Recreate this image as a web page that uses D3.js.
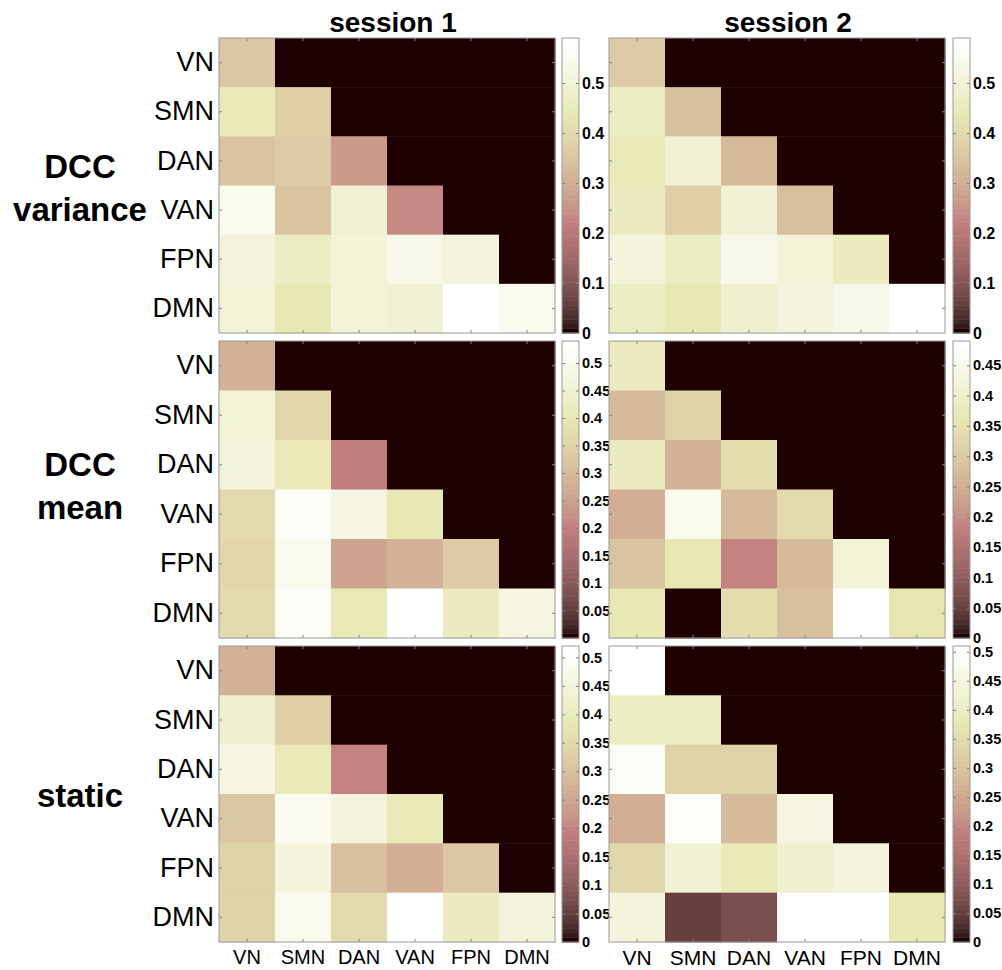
<!DOCTYPE html>
<html>
<head>
<meta charset="utf-8">
<script src="https://cdn.jsdelivr.net/npm/d3@7"></script>
<style>
  body { margin: 0; background: #fff; }
  svg { display: block; font-family: "Liberation Sans", Arial, sans-serif; }
  .frame { fill: none; stroke: #9a9a9a; stroke-width: 1; }
  .ax path { display: none; }
  .ax line { stroke: #808080; }
  .ax text { fill: #000; }
</style>
</head>
<body>
<div id="chart"></div>
<script>
// networks (rows / columns of each matrix)
var networks = ["VN", "SMN", "DAN", "VAN", "FPN", "DMN"];
var sessions = ["session 1", "session 2"];
var measures = [["DCC", "variance"], ["DCC", "mean"], ["static"]];

// lower triangles, row i holds columns 0..i (upper triangle is 0)
var dccVarS1 = [
  [0.354],
  [0.45, 0.37],
  [0.35, 0.36, 0.265],
  [0.545, 0.35, 0.49, 0.236],
  [0.51, 0.465, 0.50, 0.54, 0.51],
  [0.50, 0.44, 0.50, 0.49, 0.59, 0.55]
];
var dccVarS2 = [
  [0.365],
  [0.47, 0.34],
  [0.45, 0.49, 0.325],
  [0.455, 0.37, 0.49, 0.34],
  [0.51, 0.47, 0.54, 0.50, 0.46],
  [0.47, 0.44, 0.48, 0.51, 0.54, 0.59]
];
var dccMeanS1 = [
  [0.285],
  [0.46, 0.355],
  [0.465, 0.41, 0.20],
  [0.37, 0.52, 0.475, 0.40],
  [0.355, 0.50, 0.255, 0.28, 0.335],
  [0.37, 0.52, 0.41, 0.54, 0.42, 0.475]
];
var dccMeanS2 = [
  [0.38],
  [0.27, 0.32],
  [0.38, 0.26, 0.34],
  [0.245, 0.455, 0.27, 0.33],
  [0.29, 0.365, 0.185, 0.27, 0.415],
  [0.36, 0.0, 0.34, 0.28, 0.49, 0.355]
];
var staticS1 = [
  [0.275],
  [0.425, 0.33],
  [0.46, 0.39, 0.20],
  [0.31, 0.49, 0.45, 0.395],
  [0.34, 0.45, 0.30, 0.26, 0.31],
  [0.34, 0.485, 0.355, 0.52, 0.405, 0.45]
];
var staticS2 = [
  [0.51],
  [0.40, 0.40],
  [0.49, 0.33, 0.33],
  [0.255, 0.495, 0.285, 0.45],
  [0.335, 0.43, 0.39, 0.42, 0.44],
  [0.445, 0.05, 0.075, 0.51, 0.51, 0.375]
];
var matrices = [[dccVarS1, dccVarS2], [dccMeanS1, dccMeanS2], [staticS1, staticS2]];

// colour limits (top of each colorbar)
var colorMax = [[0.59, 0.59], [0.54, 0.49], [0.52, 0.51]];

// colorbar tick labels
var ticksCoarse = [0, 0.1, 0.2, 0.3, 0.4, 0.5];
var ticksFine = [0, 0.05, 0.1, 0.15, 0.2, 0.25, 0.3, 0.35, 0.4, 0.45, 0.5];
var ticksFine45 = [0, 0.05, 0.1, 0.15, 0.2, 0.25, 0.3, 0.35, 0.4, 0.45];
var colorTicks = [[ticksCoarse, ticksCoarse], [ticksFine, ticksFine45], [ticksFine, ticksFine]];

// layout
var width = 1002, height = 970;
var cols = [{x: 219, w: 336, cb: 562, title: 393}, {x: 609, w: 336, cb: 953, title: 788}];
var rows = [{y: 38, h: 295, lines: [178, 221]}, {y: 341, h: 297, lines: [476, 519]}, {y: 646, h: 296, lines: [807]}];
var cbWidth = 17;

// MATLAB "pink" colormap, 64 levels
function pinkMap(m) {
  var n = Math.floor(3 / 8 * m), out = [];
  for (var i = 0; i < m; i++) {
    var g = i / (m - 1);
    var r = i < n ? (i + 1) / n : 1;
    var gg = i < n ? 0 : (i < 2 * n ? (i - n + 1) / n : 1);
    var b = i < 2 * n ? 0 : (i - 2 * n + 1) / (m - 2 * n);
    out.push(d3.rgb(255 * Math.sqrt((2 * g + r) / 3),
                    255 * Math.sqrt((2 * g + gg) / 3),
                    255 * Math.sqrt((2 * g + b) / 3)).formatHex());
  }
  return out;
}
var pink = pinkMap(64);

var svg = d3.select("#chart").append("svg")
  .attr("width", width)
  .attr("height", height);

// column titles
svg.selectAll(".coltitle")
  .data(sessions).enter()
  .append("text")
  .attr("class", "coltitle")
  .attr("x", function(d, i) { return cols[i].title; })
  .attr("y", 32)
  .attr("text-anchor", "middle")
  .style("font-size", "28px")
  .style("font-weight", "bold")
  .text(function(d) { return d; });

// row titles
measures.forEach(function(m, r) {
  m.forEach(function(line, k) {
    svg.append("text")
      .attr("x", 80)
      .attr("y", rows[r].lines[k])
      .attr("text-anchor", "middle")
      .style("font-size", "33px")
      .style("font-weight", "bold")
      .text(line);
  });
});

function fmt(d) { return String(d); }

rows.forEach(function(row, r) {
  cols.forEach(function(col, c) {
    var mat = matrices[r][c];
    var cells = [];
    networks.forEach(function(rn, i) {
      networks.forEach(function(cn, j) {
        cells.push({row: rn, col: cn, v: j <= i ? mat[i][j] : 0});
      });
    });

    var x = d3.scaleBand().domain(networks).range([col.x, col.x + col.w]);
    var y = d3.scaleBand().domain(networks).range([row.y, row.y + row.h]);
    var color = d3.scaleQuantize().domain([0, colorMax[r][c]]).range(pink);

    var g = svg.append("g");
    g.selectAll("rect.cell")
      .data(cells).enter()
      .append("rect")
      .attr("class", "cell")
      .attr("x", function(d) { return x(d.col); })
      .attr("y", function(d) { return y(d.row); })
      .attr("width", x.bandwidth() + 0.5)
      .attr("height", y.bandwidth() + 0.5)
      .attr("fill", function(d) { return color(d.v); });

    // inward ticks on all four sides
    var left = d3.axisLeft(y).tickSize(-3).tickPadding(5);
    if (c === 0) {
      left.tickFormat(function(d) { return d; });
    } else {
      left.tickFormat("");
    }
    g.append("g").attr("class", "ax")
      .attr("transform", "translate(" + col.x + ",0)")
      .call(left)
      .selectAll("text").style("font-size", "27px");

    g.append("g").attr("class", "ax")
      .attr("transform", "translate(" + (col.x + col.w) + ",0)")
      .call(d3.axisRight(y).tickSize(-3).tickFormat(""));

    g.append("g").attr("class", "ax")
      .attr("transform", "translate(0," + row.y + ")")
      .call(d3.axisTop(x).tickSize(-3).tickFormat(""));

    var bottom = d3.axisBottom(x).tickSize(-3).tickPadding(8);
    bottom.tickFormat(r === rows.length - 1 ? function(d) { return d; } : "");
    g.append("g").attr("class", "ax")
      .attr("transform", "translate(0," + (row.y + row.h) + ")")
      .call(bottom)
      .selectAll("text").style("font-size", c === 0 ? "20px" : "21px");

    g.append("rect").attr("class", "frame")
      .attr("x", col.x).attr("y", row.y)
      .attr("width", col.w).attr("height", row.h);

    // colorbar
    var cy = d3.scaleLinear().domain([0, colorMax[r][c]]).range([row.y + row.h, row.y]);
    var cb = svg.append("g");
    cb.selectAll("rect.bin")
      .data(pink).enter()
      .append("rect")
      .attr("class", "bin")
      .attr("x", col.cb)
      .attr("width", cbWidth)
      .attr("y", function(d) { return cy(color.invertExtent(d)[1]); })
      .attr("height", function(d) {
        var e = color.invertExtent(d);
        return cy(e[0]) - cy(e[1]) + 0.5;
      })
      .attr("fill", function(d) { return d; });

    cb.append("g").attr("class", "ax")
      .attr("transform", "translate(" + (col.cb + cbWidth) + ",0)")
      .call(d3.axisRight(cy).tickValues(colorTicks[r][c]).tickSize(-3).tickPadding(3).tickFormat(fmt))
      .selectAll("text")
      .style("font-size", r === 0 ? "16px" : "14.5px")
      .style("font-weight", "bold");

    cb.append("g").attr("class", "ax")
      .attr("transform", "translate(" + col.cb + ",0)")
      .call(d3.axisLeft(cy).tickValues(colorTicks[r][c]).tickSize(-3).tickFormat(""));

    cb.append("rect").attr("class", "frame")
      .attr("x", col.cb).attr("y", row.y)
      .attr("width", cbWidth).attr("height", row.h);
  });
});
</script>
</body>
</html>
